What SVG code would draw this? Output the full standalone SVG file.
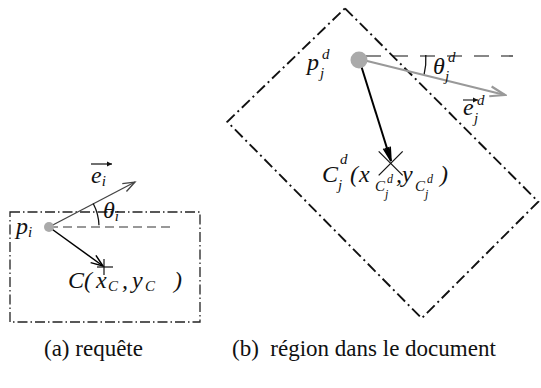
<svg xmlns="http://www.w3.org/2000/svg" width="541" height="388" viewBox="0 0 541 388">
<defs>
<style>
.m{font-family:'Liberation Serif','Times New Roman','DejaVu Serif',serif;font-style:italic;fill:#111;font-size:24px}
.s{font-size:15px}
.t{font-size:12px}
.cap{font-family:'Liberation Serif','Times New Roman','DejaVu Serif',serif;font-size:23px;fill:#111}
.frameA{fill:none;stroke:#222;stroke-width:1.3;stroke-dasharray:10 3 1.5 3}
.frameB{fill:none;stroke:#111;stroke-width:1.9;stroke-dasharray:11 4 2 4}
</style>
<marker id="ahDark" viewBox="-14 -7 16 14" markerWidth="16" markerHeight="14" refX="0" refY="0" orient="auto" markerUnits="userSpaceOnUse">
<path d="M-12,-4.5 L0,0 L-12,4.5" fill="none" stroke="#444" stroke-width="1.3"/>
</marker>
<marker id="ahBlack" viewBox="-14 -7 16 14" markerWidth="16" markerHeight="14" refX="0" refY="0" orient="auto" markerUnits="userSpaceOnUse">
<path d="M-12,-4.5 L0,0 L-12,4.5" fill="none" stroke="#000" stroke-width="1.5"/>
</marker>
<marker id="ahGray" viewBox="-18 -8 20 16" markerWidth="20" markerHeight="16" refX="0" refY="0" orient="auto" markerUnits="userSpaceOnUse">
<path d="M-15,-5 L0,0 L-15,5" fill="none" stroke="#999" stroke-width="2.2"/>
</marker>
<marker id="ahBold" viewBox="-16 -6 18 12" markerWidth="18" markerHeight="12" refX="0" refY="0" orient="auto" markerUnits="userSpaceOnUse">
<path d="M-14,-3.5 L0,0 L-14,3.5 M-14,-1.5 L0,0 L-14,1.5" fill="none" stroke="#000" stroke-width="1.6"/>
</marker>
<marker id="vec" viewBox="-6 -4 8 8" markerWidth="8" markerHeight="8" refX="0" refY="0" orient="auto" markerUnits="userSpaceOnUse">
<path d="M-5,-2.5 L0,0 L-5,2.5 Z" fill="#111"/>
</marker>
</defs>

<g id="panel-a">
<rect id="query-frame" class="frameA" x="10" y="212" width="190" height="110"/>
<g id="connectors-a">
<line x1="49" y1="227" x2="173" y2="227" stroke="#777" stroke-width="1.3" stroke-dasharray="9 5"/>
<line x1="49" y1="227" x2="135" y2="182" stroke="#444" stroke-width="1.3" marker-end="url(#ahDark)"/>
<line x1="49" y1="227" x2="103" y2="266" stroke="#000" stroke-width="1.5" marker-end="url(#ahBlack)"/>
<path d="M93.2,203.5 A50,50 0 0 1 98.97,225.3" fill="none" stroke="#111" stroke-width="1.3"/>
</g>
<g id="node-pi">
<circle cx="49" cy="227" r="5" fill="#aaa"/>
<text class="m" x="16" y="234">p<tspan class="s" dy="3">i</tspan></text>
</g>
<g id="node-ei">
<line x1="91" y1="164" x2="112" y2="164" stroke="#111" stroke-width="1.2" marker-end="url(#vec)"/>
<text class="m" x="91" y="183">e<tspan class="s" dy="3">i</tspan></text>
</g>
<g id="node-theta-i">
<text class="m" x="103" y="218">θ<tspan class="s" dy="3">i</tspan></text>
</g>
<g id="node-C">
<line x1="97" y1="267" x2="113" y2="267" stroke="#111" stroke-width="1.2"/>
<line x1="104" y1="259" x2="104" y2="275" stroke="#111" stroke-width="1.2"/>
<text class="m" x="68" y="288">C(<tspan x="96">x</tspan><tspan class="s" x="108" y="291">C</tspan><tspan x="122" y="288">,</tspan><tspan x="132">y</tspan><tspan class="s" x="145" y="291">C</tspan><tspan x="174" y="288">)</tspan></text>
</g>
</g>

<g id="panel-b">
<polygon id="doc-frame" class="frameB" points="345,8.3 538.3,201.7 421.7,318.3 227.3,121.7"/>
<g id="connectors-b">
<line x1="366" y1="56" x2="513" y2="56" stroke="#111" stroke-width="1.2" stroke-dasharray="15 12"/>
<path d="M425.8,55 A67,67 0 0 1 424,75.2" fill="none" stroke="#111" stroke-width="1.3"/>
<line x1="359" y1="59" x2="505" y2="95" stroke="#999" stroke-width="2.2" marker-end="url(#ahGray)"/>
<line x1="359" y1="59" x2="391" y2="161" stroke="#000" stroke-width="2" marker-end="url(#ahBold)"/>
</g>
<g id="node-pj">
<circle cx="359" cy="60" r="8.5" fill="#aaa"/>
<text class="m" x="307" y="70">p<tspan class="s" x="320" y="78">j</tspan><tspan class="s" x="322" y="59">d</tspan></text>
</g>
<g id="node-theta-j">
<text class="m" x="433" y="74">θ<tspan class="s" x="445" y="81">j</tspan><tspan class="s" x="448" y="62">d</tspan></text>
</g>
<g id="node-ej">
<line x1="463" y1="100" x2="478" y2="100" stroke="#111" stroke-width="1.1" marker-end="url(#vec)"/>
<text class="m" x="463" y="115">e<tspan class="s" x="474" y="123">j</tspan><tspan class="s" x="477" y="105">d</tspan></text>
</g>
<g id="node-Cj">
<line x1="378.7" y1="151.3" x2="402.7" y2="175.3" stroke="#111" stroke-width="1.2"/>
<line x1="402.7" y1="151.3" x2="378.7" y2="175.3" stroke="#111" stroke-width="1.2"/>
<text class="m" x="322" y="182">C<tspan class="s" x="338" y="190">j</tspan><tspan class="s" x="340" y="164">d</tspan><tspan x="350" y="182">(</tspan><tspan x="359">x</tspan><tspan class="s" x="375" y="191">C</tspan><tspan class="t" x="385" y="198">j</tspan><tspan class="t" x="387" y="183">d</tspan><tspan x="396" y="182">,</tspan><tspan x="402">y</tspan><tspan class="s" x="415" y="191">C</tspan><tspan class="t" x="425" y="198">j</tspan><tspan class="t" x="427" y="183">d</tspan><tspan x="440" y="182">)</tspan></text>
</g>
</g>

<g id="captions">
<text class="cap" x="44" y="356" xml:space="preserve">(a) requête</text>
<text class="cap" x="232" y="356" xml:space="preserve">(b)  région dans le document</text>
</g>
</svg>
